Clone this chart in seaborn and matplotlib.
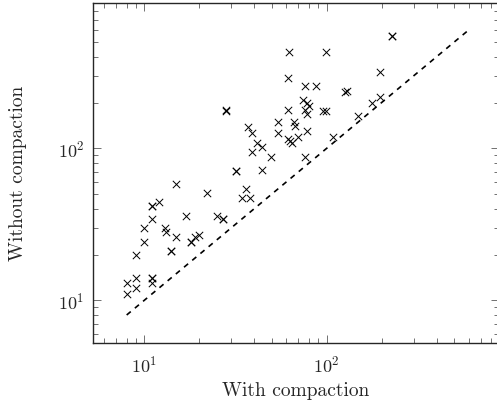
import matplotlib
matplotlib.use("Agg")
import matplotlib.pyplot as plt
import seaborn as sns
import pandas as pd
from matplotlib.ticker import LogLocator, NullFormatter

with_compaction = [229, 229, 62, 99, 61, 195, 75.6, 87, 126, 129, 74, 77.6, 80, 75.6, 77.6,
                   95.5, 99, 195, 178, 148, 108, 75.6, 28, 28, 61, 54, 66.5, 67, 37, 39,
                   54, 61, 63, 64.6, 69.6, 77.6, 41.5, 44, 39, 49.5, 32, 32, 44, 22, 36,
                   34.5, 38, 15, 11, 11, 12, 17, 25, 27, 27, 11, 10, 13, 13.2, 15, 10,
                   18, 18, 19, 20, 14, 14, 9, 8, 9, 8, 9, 11, 11, 11]
without_compaction = [550, 550, 427, 427, 290, 318, 257, 257, 236, 240, 208, 199, 191, 178, 167,
                      175, 175, 217, 199, 163, 119, 88, 175, 180, 180, 149, 149, 140, 138, 126,
                      126, 115, 112, 108, 119, 129, 108, 102, 95, 88, 71, 71, 72, 51, 54,
                      47, 47, 58, 42, 42, 44, 36, 36, 34, 34, 34, 30, 30, 28, 26, 24,
                      24, 24, 26, 27, 21, 21, 20, 13, 14, 11, 12, 14, 14, 13]
diagonal = [8, 600]

df = pd.DataFrame({"with": with_compaction, "without": without_compaction})
diag_df = pd.DataFrame({"x": diagonal, "y": diagonal})

sns.set_style("ticks")
plt.rcParams["font.family"] = ["cmr10", "DejaVu Serif"]
plt.rcParams["mathtext.fontset"] = "cm"
plt.rcParams["axes.formatter.use_mathtext"] = True

fig = plt.figure(figsize=(4.97, 4.05), dpi=100)
ax = fig.add_axes([92.7 / 497, 1 - 343.3 / 405, (498.5 - 92.7) / 497, (343.3 - 2.7) / 405])

sns.lineplot(data=diag_df, x="x", y="y", ax=ax, color="black", linewidth=1.2,
             dashes=False, linestyle=(0, (3.2, 3.2)))
sns.scatterplot(data=df, x="with", y="without", ax=ax, marker="x", color="black",
                s=28, linewidth=0.7, zorder=3)

ax.set_xscale("log")
ax.set_yscale("log")
ax.set_xlim(5.21, 875)
ax.set_ylim(5.21, 908)

ax.xaxis.set_major_locator(LogLocator(base=10, numticks=10))
ax.yaxis.set_major_locator(LogLocator(base=10, numticks=10))
ax.xaxis.set_minor_locator(LogLocator(base=10, subs=range(2, 10), numticks=20))
ax.yaxis.set_minor_locator(LogLocator(base=10, subs=range(2, 10), numticks=20))
ax.xaxis.set_minor_formatter(NullFormatter())
ax.yaxis.set_minor_formatter(NullFormatter())

ax.tick_params(which="both", direction="in", top=True, right=True, color="0.35", width=0.6,
               labelsize=13)
ax.tick_params(which="major", length=6)
ax.tick_params(which="minor", length=3.5)
ax.tick_params(axis="x", which="major", pad=8)
ax.tick_params(axis="y", which="major", pad=6)

for s in ax.spines.values():
    s.set_visible(True)
    s.set_linewidth(1.0)
    s.set_color("0.15")

ax.set_xlabel("With compaction", fontsize=14, labelpad=5)
ax.set_ylabel("Without compaction", fontsize=14, labelpad=22)

fig.savefig("out.png", dpi=100)
